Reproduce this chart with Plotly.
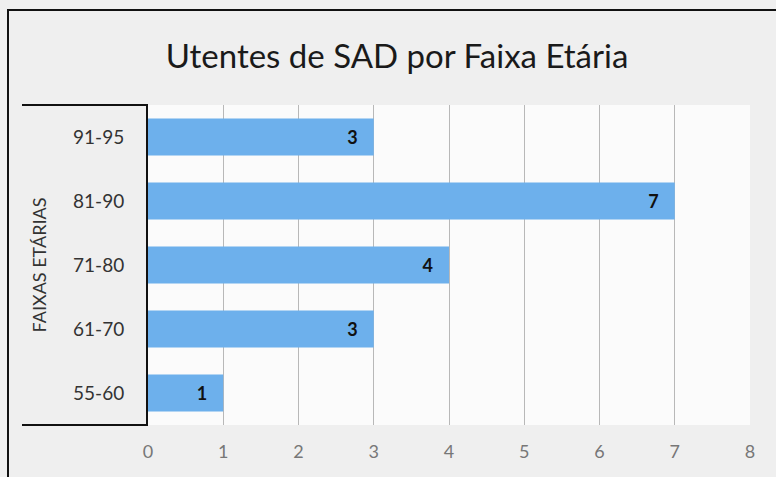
import plotly.graph_objects as go

categorias = ["55-60", "61-70", "71-80", "81-90", "91-95"]
utentes = [1, 3, 4, 7, 3]
x_ticks = [0, 1, 2, 3, 4, 5, 6, 7, 8]

FONT = "Lato, 'Open Sans', sans-serif"

fig = go.Figure()
fig.add_trace(go.Bar(
    y=categorias,
    x=utentes,
    orientation="h",
    marker=dict(color="#6DB0EC", line=dict(width=0)),
    width=0.58,
    text=[str(v) for v in utentes],
    texttemplate="%{text}\u00a0\u00a0\u00a0",
    textposition="inside",
    insidetextanchor="end",
    textfont=dict(family=FONT, size=18, color="#111111", weight="bold"),
    cliponaxis=False,
    hoverinfo="x+y",
))

fig.update_layout(
    width=776,
    height=477,
    margin=dict(l=148, r=26, t=105, b=52),
    paper_bgcolor="#efefef",
    plot_bgcolor="#fbfbfb",
    showlegend=False,
    title=dict(
        text="Utentes de SAD por Faixa Etária",
        x=397 / 776, xref="container", xanchor="center",
        y=1 - 56 / 477, yref="container", yanchor="middle",
        font=dict(family=FONT, size=33, color="#1a1a1a"),
    ),
    font=dict(family=FONT),
    xaxis=dict(
        range=[0, 8],
        tickvals=x_ticks,
        ticktext=[str(v) for v in x_ticks],
        showgrid=True,
        gridcolor="#b8b8b8",
        gridwidth=1,
        zeroline=False,
        showline=False,
        ticks="",
        tickfont=dict(family=FONT, size=18, color="#777777"),
        ticklabelstandoff=14,
        fixedrange=True,
    ),
    yaxis=dict(
        categoryorder="array",
        categoryarray=categorias,
        showgrid=False,
        zeroline=False,
        showline=True,
        linecolor="#111111",
        linewidth=2,
        ticks="",
        tickfont=dict(family=FONT, size=19, color="#333333"),
        ticklabelstandoff=18,
        title=dict(
            text="FAIXAS ETÁRIAS",
            font=dict(family=FONT, size=18, color="#333333"),
            standoff=22,
        ),
        fixedrange=True,
    ),
    shapes=[
        # outer frame (extends beyond the picture on right/bottom)
        dict(type="rect", xref="paper", yref="paper",
             x0=-140 / 602, x1=1.2, y0=-0.3, y1=1 + 95 / 320,
             line=dict(color="#111111", width=2), fillcolor="rgba(0,0,0,0)",
             layer="above"),
        # bracket around category labels
        dict(type="line", xref="paper", yref="paper",
             x0=-126 / 602, x1=0, y0=1, y1=1,
             line=dict(color="#111111", width=2), layer="above"),
        dict(type="line", xref="paper", yref="paper",
             x0=-126 / 602, x1=0, y0=0, y1=0,
             line=dict(color="#111111", width=2), layer="above"),
    ],
)

fig.write_html(
    "out.html",
    config={"displayModeBar": False},
    post_script="document.body.style.margin='0';document.body.style.overflow='hidden';",
)
